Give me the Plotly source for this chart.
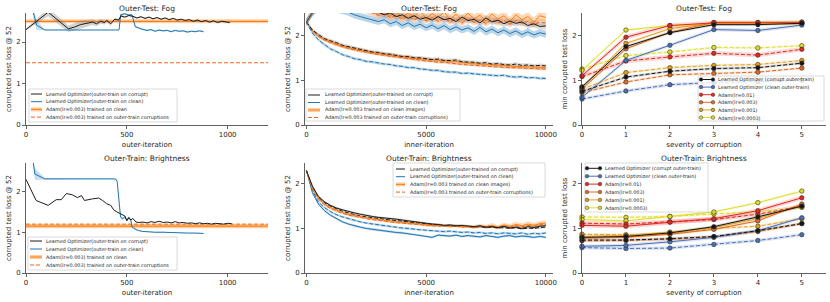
import plotly.graph_objects as go

W, H = 830, 302

# ---------------- DATA ----------------
# Panel 1: Outer-Test: Fog vs outer-iteration
p1_lo_corrupt_x = [0, 110, 210, 240, 270, 300, 330, 350, 370, 390,
                   400, 420, 440, 460, 470, 490, 510, 530, 550, 570,
                   590, 610, 630, 650, 670, 690, 710, 730, 750, 770,
                   790, 810, 830, 850, 870, 890, 910, 930, 950, 970,
                   990, 1010]
p1_lo_corrupt_y = [2.30, 2.72, 2.32, 2.36, 2.42, 2.45, 2.48, 2.44, 2.50, 2.47,
                   2.52, 2.44, 2.55, 2.53, 2.63, 2.60, 2.64, 2.62, 2.58, 2.61,
                   2.57, 2.60, 2.56, 2.59, 2.55, 2.58, 2.54, 2.57, 2.53, 2.55,
                   2.52, 2.54, 2.50, 2.53, 2.49, 2.52, 2.48, 2.51, 2.47, 2.50,
                   2.48, 2.47]
p1_lo_corrupt_err = [0.02, 0.10, 0.08, 0.09, 0.10, 0.08, 0.07, 0.06, 0.06, 0.05,
                     0.04, 0.04, 0.03, 0.03, 0.03, 0.02, 0.02, 0.02, 0.02, 0.02,
                     0.02, 0.02, 0.02, 0.02, 0.02, 0.02, 0.02, 0.02, 0.02, 0.02,
                     0.02, 0.02, 0.02, 0.02, 0.02, 0.02, 0.02, 0.02, 0.02, 0.02,
                     0.02, 0.02]
p1_lo_clean_x = [36, 52, 93, 200, 300, 461, 470, 490, 510, 525,
                 542, 560, 575, 600, 620, 640, 660, 680, 700, 720,
                 740, 760, 780, 800, 820, 840, 860, 880]
p1_lo_clean_y = [2.72, 2.41, 2.29, 2.29, 2.29, 2.29, 2.66, 2.68, 2.65, 2.66,
                 2.37, 2.33, 2.31, 2.28, 2.30, 2.26, 2.29, 2.27, 2.28, 2.25,
                 2.28, 2.26, 2.27, 2.24, 2.26, 2.25, 2.27, 2.25]
p1_lo_clean_err = [0.12, 0.12, 0.01, 0.0, 0.0, 0.0, 0.02, 0.02, 0.02, 0.02,
                   0.03, 0.02, 0.02, 0.02, 0.02, 0.02, 0.02, 0.02, 0.02, 0.02,
                   0.02, 0.02, 0.02, 0.02, 0.02, 0.02, 0.02, 0.02]
p1_adam_x = [0, 1200]
p1_adam_clean = 2.50
p1_adam_clean_err = 0.05
p1_adam_corrupt = 1.50

# Panel 4: Outer-Train: Brightness vs outer-iteration
p4_lo_corrupt_x = [0, 50, 110, 150, 175, 200, 230, 255, 275, 290,
                   330, 360, 380, 400, 420, 435, 450, 470, 490, 500,
                   510, 520, 530, 545, 560, 580, 600, 620, 640, 660,
                   680, 700, 720, 740, 760, 780, 800, 820, 840, 860,
                   880, 900, 920, 940, 960, 980, 1000, 1020]
p4_lo_corrupt_y = [2.30, 1.78, 1.66, 1.80, 1.80, 1.95, 1.92, 1.85, 1.90, 1.78,
                   1.82, 1.84, 1.78, 1.70, 1.66, 1.55, 1.50, 1.45, 1.40, 1.28,
                   1.36, 1.30, 1.34, 1.25, 1.24, 1.25, 1.23, 1.26, 1.24, 1.27,
                   1.24, 1.25, 1.23, 1.26, 1.23, 1.24, 1.22, 1.23, 1.21, 1.23,
                   1.21, 1.22, 1.20, 1.22, 1.21, 1.20, 1.22, 1.21]
p4_lo_clean_x = [36, 44, 93, 200, 300, 444, 452, 461, 469, 480,
                 490, 500, 510, 520, 526, 540, 559, 580, 600, 640,
                 680, 720, 760, 800, 840, 880]
p4_lo_clean_y = [2.72, 2.43, 2.31, 2.31, 2.31, 2.31, 2.25, 1.66, 1.37, 1.33,
                 1.38, 1.30, 1.36, 1.29, 1.13, 1.08, 1.04, 1.02, 1.01, 1.00,
                 1.00, 0.99, 0.99, 0.98, 0.98, 0.97]
p4_lo_clean_err = [0.05, 0.14, 0.02, 0.01, 0.01, 0.01, 0.02, 0.03, 0.03, 0.03,
                   0.03, 0.03, 0.03, 0.03, 0.02, 0.02, 0.01, 0.01, 0.01, 0.01,
                   0.01, 0.01, 0.01, 0.01, 0.01, 0.01]
p4_adam_x = [0, 1200]
p4_adam_clean = 1.15
p4_adam_clean_err = 0.05
p4_adam_corrupt = 1.20

# Panels 2 & 5: inner-iteration curves
inner_x = [0, 250, 500, 750, 1000, 1250, 1500, 1750, 2000, 2250,
           2500, 2750, 3000, 3250, 3500, 3750, 4000, 4250, 4500, 4750,
           5000, 5250, 5500, 5750, 6000, 6250, 6500, 6750, 7000, 7250,
           7500, 7750, 8000, 8250, 8500, 8750, 9000, 9250, 9500, 9750,
           10000]
p2_lo_corrupt_solid = [2.30, 2.52, 2.70, 2.85, 2.90, 2.90, 2.85, 2.80, 2.75, 2.70,
                       2.65, 2.60, 2.52, 2.46, 2.50, 2.42, 2.46, 2.38, 2.44, 2.36,
                       2.40, 2.34, 2.42, 2.35, 2.38, 2.31, 2.41, 2.33, 2.36, 2.28,
                       2.39, 2.30, 2.34, 2.26, 2.32, 2.27, 2.30, 2.22, 2.26, 2.20,
                       2.21]
p2_lo_clean_solid = [2.30, 2.50, 2.62, 2.66, 2.62, 2.60, 2.56, 2.52, 2.46, 2.42,
                     2.38, 2.35, 2.31, 2.35, 2.26, 2.31, 2.22, 2.28, 2.20, 2.25,
                     2.17, 2.23, 2.15, 2.22, 2.13, 2.19, 2.12, 2.17, 2.09, 2.18,
                     2.08, 2.14, 2.06, 2.12, 2.04, 2.10, 2.02, 2.08, 2.01, 2.06,
                     2.03]
p2_adam_clean_solid_hi = [2.30, 2.55, 2.75, 2.90, 3.00, 3.00, 2.95, 2.90, 2.85, 2.80,
                          2.75, 2.62, 2.50, 2.55, 2.44, 2.53, 2.41, 2.50, 2.42, 2.55,
                          2.38, 2.49, 2.40, 2.52, 2.36, 2.47, 2.34, 2.50, 2.37, 2.45,
                          2.32, 2.48, 2.36, 2.44, 2.31, 2.46, 2.35, 2.42, 2.30, 2.44,
                          2.40]
p2_adam_corrupt_dash_hi = [2.30, 2.50, 2.68, 2.80, 2.85, 2.82, 2.78, 2.72, 2.66, 2.60,
                           2.55, 2.50, 2.45, 2.48, 2.40, 2.44, 2.37, 2.42, 2.35, 2.41,
                           2.33, 2.40, 2.31, 2.38, 2.30, 2.36, 2.28, 2.37, 2.29, 2.34,
                           2.27, 2.35, 2.28, 2.33, 2.25, 2.34, 2.27, 2.31, 2.24, 2.30,
                           2.28]
p2_lo_corrupt_dash = [2.30, 2.12, 2.02, 1.93, 1.88, 1.84, 1.78, 1.75, 1.71, 1.69,
                      1.66, 1.63, 1.62, 1.59, 1.58, 1.55, 1.53, 1.53, 1.50, 1.50,
                      1.48, 1.46, 1.47, 1.44, 1.44, 1.45, 1.41, 1.41, 1.40, 1.38,
                      1.39, 1.36, 1.37, 1.35, 1.34, 1.36, 1.33, 1.34, 1.32, 1.33,
                      1.32]
p2_adam_clean_solid_lo = [2.30, 2.10, 1.99, 1.91, 1.86, 1.81, 1.76, 1.73, 1.70, 1.67,
                          1.64, 1.62, 1.60, 1.58, 1.56, 1.54, 1.53, 1.51, 1.49, 1.48,
                          1.47, 1.45, 1.44, 1.43, 1.42, 1.41, 1.40, 1.38, 1.37, 1.36,
                          1.35, 1.35, 1.33, 1.33, 1.32, 1.31, 1.30, 1.30, 1.29, 1.29,
                          1.28]
p2_adam_corrupt_dash_lo = [2.30, 2.10, 1.98, 1.90, 1.84, 1.79, 1.75, 1.71, 1.68, 1.65,
                           1.62, 1.60, 1.57, 1.56, 1.53, 1.52, 1.50, 1.48, 1.46, 1.45,
                           1.43, 1.42, 1.40, 1.40, 1.38, 1.37, 1.35, 1.34, 1.33, 1.33,
                           1.31, 1.30, 1.30, 1.29, 1.28, 1.28, 1.27, 1.26, 1.26, 1.25,
                           1.25]
p2_lo_clean_dash = [2.30, 2.05, 1.90, 1.79, 1.70, 1.64, 1.57, 1.53, 1.48, 1.46,
                    1.42, 1.41, 1.38, 1.36, 1.35, 1.32, 1.31, 1.28, 1.28, 1.25,
                    1.24, 1.22, 1.22, 1.19, 1.18, 1.18, 1.15, 1.16, 1.14, 1.13,
                    1.12, 1.11, 1.10, 1.11, 1.08, 1.07, 1.08, 1.05, 1.06, 1.04,
                    1.04]

p5_lo_corrupt_solid = [2.30, 1.95, 1.72, 1.60, 1.52, 1.46, 1.42, 1.38, 1.35, 1.32,
                       1.29, 1.27, 1.25, 1.24, 1.22, 1.21, 1.19, 1.17, 1.15, 1.14,
                       1.12, 1.10, 1.09, 1.07, 1.08, 1.06, 1.07, 1.05, 1.04, 1.06,
                       1.03, 1.04, 1.02, 1.05, 1.01, 1.03, 1.00, 1.04, 1.02, 1.05,
                       1.06]
p5_lo_corrupt_dash = [2.30, 1.92, 1.70, 1.58, 1.50, 1.44, 1.39, 1.35, 1.31, 1.28,
                      1.26, 1.24, 1.22, 1.21, 1.19, 1.18, 1.16, 1.15, 1.13, 1.12,
                      1.10, 1.09, 1.08, 1.06, 1.07, 1.05, 1.05, 1.04, 1.03, 1.04,
                      1.02, 1.03, 1.01, 1.02, 1.00, 1.02, 0.99, 1.01, 1.00, 1.02,
                      1.03]
p5_adam_clean_solid = [2.30, 1.90, 1.68, 1.55, 1.47, 1.41, 1.36, 1.32, 1.29, 1.27,
                       1.24, 1.22, 1.20, 1.19, 1.17, 1.15, 1.14, 1.12, 1.11, 1.10,
                       1.08, 1.07, 1.08, 1.06, 1.05, 1.07, 1.04, 1.05, 1.03, 1.06,
                       1.04, 1.07, 1.03, 1.08, 1.05, 1.09, 1.06, 1.10, 1.07, 1.11,
                       1.12]
p5_adam_clean_err = [0.0, 0.02, 0.02, 0.02, 0.02, 0.02, 0.02, 0.02, 0.02, 0.02,
                     0.02, 0.02, 0.02, 0.02, 0.02, 0.02, 0.02, 0.02, 0.02, 0.02,
                     0.03, 0.03, 0.03, 0.03, 0.03, 0.03, 0.03, 0.03, 0.04, 0.04,
                     0.04, 0.05, 0.04, 0.05, 0.05, 0.06, 0.05, 0.06, 0.05, 0.06,
                     0.06]
p5_adam_corrupt_dash = [2.30, 1.88, 1.66, 1.53, 1.45, 1.39, 1.34, 1.30, 1.27, 1.24,
                        1.22, 1.20, 1.18, 1.16, 1.15, 1.13, 1.12, 1.11, 1.09, 1.08,
                        1.07, 1.06, 1.05, 1.06, 1.04, 1.05, 1.03, 1.04, 1.02, 1.04,
                        1.03, 1.05, 1.02, 1.04, 1.03, 1.06, 1.04, 1.07, 1.05, 1.08,
                        1.09]
p5_lo_clean_dash = [2.30, 1.85, 1.60, 1.47, 1.38, 1.31, 1.26, 1.22, 1.18, 1.15,
                    1.12, 1.10, 1.08, 1.06, 1.04, 1.03, 1.01, 1.00, 0.98, 0.97,
                    0.96, 0.95, 0.94, 0.93, 0.94, 0.92, 0.91, 0.92, 0.90, 0.91,
                    0.89, 0.90, 0.88, 0.90, 0.89, 0.88, 0.90, 0.87, 0.89, 0.88,
                    0.90]
p5_lo_clean_solid = [2.30, 1.80, 1.55, 1.40, 1.30, 1.22, 1.15, 1.10, 1.06, 1.03,
                     1.00, 0.98, 0.96, 0.94, 0.93, 0.91, 0.90, 0.88, 0.87, 0.85,
                     0.83, 0.80, 0.85, 0.84, 0.83, 0.85, 0.82, 0.84, 0.83, 0.81,
                     0.84, 0.82, 0.80, 0.83, 0.84, 0.81, 0.83, 0.82, 0.80, 0.82,
                     0.80]

# Panels 3 & 6: severity of corruption
severity = [0, 1, 2, 3, 4, 5]
p3_solid = {
    "lo_corrupt": [0.85, 1.75, 2.06, 2.24, 2.24, 2.27],
    "lo_clean":   [0.62, 1.44, 1.78, 2.13, 2.11, 2.23],
    "lr0.01":     [1.10, 1.96, 2.22, 2.28, 2.28, 2.28],
    "lr0.003":    [0.80, 1.70, 2.07, 2.29, 2.29, 2.29],
    "lr0.001":    [0.85, 1.82, 2.15, 2.28, 2.28, 2.30],
    "lr0.0003":   [1.22, 2.12, 2.22, 2.26, 2.26, 2.26],
}
p3_dash = {
    "lo_corrupt": [0.75, 1.07, 1.20, 1.26, 1.28, 1.38],
    "lo_clean":   [0.58, 0.76, 0.90, 0.95, 0.97, 1.00],
    "lr0.01":     [1.08, 1.43, 1.52, 1.60, 1.56, 1.69],
    "lr0.003":    [0.72, 0.96, 1.12, 1.15, 1.18, 1.27],
    "lr0.001":    [0.80, 1.17, 1.28, 1.33, 1.35, 1.44],
    "lr0.0003":   [1.25, 1.55, 1.63, 1.73, 1.72, 1.77],
}
p6_solid = {
    "lo_corrupt": [0.80, 0.82, 0.90, 1.04, 1.26, 1.50],
    "lo_clean":   [0.60, 0.62, 0.70, 0.80, 0.95, 1.24],
    "lr0.01":     [1.07, 1.05, 1.14, 1.22, 1.40, 1.69],
    "lr0.003":    [0.78, 0.80, 0.87, 0.98, 1.17, 1.55],
    "lr0.001":    [0.82, 0.84, 0.92, 1.02, 1.22, 1.52],
    "lr0.0003":   [1.20, 1.17, 1.27, 1.37, 1.58, 1.84],
}
p6_dash = {
    "lo_corrupt": [0.74, 0.74, 0.77, 0.82, 0.95, 1.11],
    "lo_clean":   [0.57, 0.55, 0.56, 0.64, 0.73, 0.86],
    "lr0.01":     [1.12, 1.10, 1.15, 1.20, 1.32, 1.50],
    "lr0.003":    [0.72, 0.73, 0.76, 0.81, 0.93, 1.11],
    "lr0.001":    [0.87, 0.86, 0.88, 1.00, 1.05, 1.22],
    "lr0.0003":   [1.26, 1.25, 1.27, 1.33, 1.38, 1.47],
}
sev_err = {"lo_corrupt": 0.03, "lo_clean": 0.04, "lr0.01": 0.05,
           "lr0.003": 0.03, "lr0.001": 0.03, "lr0.0003": 0.03}

titles = ["Outer-Test: Fog", "Outer-Test: Fog", "Outer-Test: Fog",
          "Outer-Train: Brightness", "Outer-Train: Brightness", "Outer-Train: Brightness"]
xtitles = ["outer-iteration", "inner-iteration", "severity of corruption"] * 2
ytitles = ["corrupted test loss @ 52", "corrupted test loss @ 52", "min corrupted test loss"] * 2

leg_outer = ["Learned Optimizer(outer-train on corrupt)", "Learned Optimizer(outer-train on clean)",
             "Adam(lr=0.003) trained on clean", "Adam(lr=0.003) trained on outer-train corruptions"]
leg_inner = ["Learned Optimizer(outer-trained on corrupt)", "Learned Optimizer(outer-trained on clean)",
             "Adam(lr=0.003 trained on clean images)", "Adam(lr=0.003 trained on outer-train corruptions)"]
leg_sev = ["Learned Optimizer (corrupt outer-train)", "Learned Optimizer (clean outer-train)",
           "Adam(lr=0.01)", "Adam(lr=0.003)", "Adam(lr=0.001)", "Adam(lr=0.0003)"]

# ---------------- STYLE ----------------
BLACK = "#1c1c1c"
BLUE = "#1f77b4"
ORANGE = "#ff7f0e"
SEV_COL = {"lo_corrupt": "#151515", "lo_clean": "#4a6fb5", "lr0.01": "#e3261e",
           "lr0.003": "#e2691d", "lr0.001": "#e3a01a", "lr0.0003": "#dede26"}
SEV_KEYS = ["lo_corrupt", "lo_clean", "lr0.01", "lr0.003", "lr0.001", "lr0.0003"]
DASH = "4px,2px"
FONT = "DejaVu Sans"
TXT = "#262626"

X_DOM = [(26, 268), (305, 553), (582, 826)]
Y_DOM = [(13, 125), (163, 273)]
X_RANGE = [[0, 1200], [-60, 10300], [0, 5.55]]
Y_RANGE = [[0, 2.7], [0, 2.5], [0, 2.5], [0, 2.7], [0, 2.47], [0, 2.47]]
X_DTICK = [500, 5000, 1]

fig = go.Figure()


def axn(i):
    return ("x" if i == 1 else f"x{i}"), ("y" if i == 1 else f"y{i}")


def rgba(h, a):
    h = h.lstrip("#")
    return f"rgba({int(h[0:2],16)},{int(h[2:4],16)},{int(h[4:6],16)},{a})"


def band(i, x, y, err, color, alpha=0.3):
    if isinstance(err, (int, float)):
        err = [err] * len(y)
    up = [a + e for a, e in zip(y, err)]
    lo = [a - e for a, e in zip(y, err)]
    xa, ya = axn(i)
    fig.add_trace(go.Scatter(x=list(x) + list(x)[::-1], y=up + lo[::-1], fill="toself",
                             fillcolor=rgba(color, alpha), line=dict(width=0), mode="lines",
                             hoverinfo="skip", showlegend=False, xaxis=xa, yaxis=ya))


def line(i, x, y, color, dash="solid", width=1.0, markers=False):
    xa, ya = axn(i)
    if markers:
        kw = dict(mode="lines+markers",
                  marker=dict(size=4.5, color=color, line=dict(color="#333333", width=0.6)),
                  cliponaxis=False)
    else:
        kw = dict(mode="lines")
    fig.add_trace(go.Scatter(x=x, y=y, line=dict(color=color, width=width, dash=dash),
                             showlegend=False, xaxis=xa, yaxis=ya, **kw))


# ----- Panel 1 -----
band(1, p1_adam_x, [p1_adam_clean] * 2, p1_adam_clean_err, ORANGE, 0.35)
line(1, p1_adam_x, [p1_adam_clean] * 2, ORANGE, width=1.2)
line(1, p1_adam_x, [p1_adam_corrupt] * 2, "#f0651a", dash=DASH, width=1.0)
band(1, p1_lo_corrupt_x, p1_lo_corrupt_y, p1_lo_corrupt_err, "#808080", 0.35)
band(1, p1_lo_clean_x, p1_lo_clean_y, p1_lo_clean_err, BLUE, 0.25)
line(1, p1_lo_clean_x, p1_lo_clean_y, BLUE)
line(1, p1_lo_corrupt_x, p1_lo_corrupt_y, BLACK)

# ----- Panel 4 -----
band(4, p4_adam_x, [p4_adam_clean] * 2, p4_adam_clean_err, ORANGE, 0.4)
line(4, p4_adam_x, [p4_adam_clean] * 2, ORANGE, width=1.2)
line(4, p4_adam_x, [p4_adam_corrupt] * 2, "#f0651a", dash=DASH, width=1.0)
band(4, p4_lo_clean_x, p4_lo_clean_y, p4_lo_clean_err, BLUE, 0.25)
line(4, p4_lo_clean_x, p4_lo_clean_y, BLUE)
line(4, p4_lo_corrupt_x, p4_lo_corrupt_y, BLACK)

# ----- Panel 2 -----
p2_series = [
    (p2_adam_clean_solid_hi, ORANGE, "solid", 0.10, 0.3),
    (p2_adam_corrupt_dash_hi, "#e8661a", DASH, 0.07, 0.25),
    (p2_lo_corrupt_solid, BLACK, "solid", 0.07, 0.3),
    (p2_lo_clean_solid, BLUE, "solid", 0.08, 0.3),
    (p2_adam_clean_solid_lo, ORANGE, "solid", 0.04, 0.3),
    (p2_adam_corrupt_dash_lo, "#e8661a", DASH, 0.03, 0.3),
    (p2_lo_corrupt_dash, BLACK, DASH, 0.04, 0.3),
    (p2_lo_clean_dash, BLUE, DASH, 0.03, 0.3),
]
for y, c, d, e, a in p2_series:
    band(2, inner_x, y, e, "#808080" if c == BLACK else c, a)
for y, c, d, e, a in p2_series:
    line(2, inner_x, y, c, dash=d)

# ----- Panel 5 -----
for y, c, e in [
    (p5_adam_clean_solid, ORANGE, p5_adam_clean_err),
    (p5_adam_corrupt_dash, "#e8661a", 0.02),
    (p5_lo_corrupt_solid, "#808080", 0.025),
    (p5_lo_corrupt_dash, "#808080", 0.02),
    (p5_lo_clean_dash, BLUE, 0.025),
    (p5_lo_clean_solid, BLUE, 0.025),
]:
    band(5, inner_x, y, e, c, 0.3)
for y, c, d in [
    (p5_lo_clean_solid, BLUE, "solid"),
    (p5_lo_clean_dash, BLUE, DASH),
    (p5_lo_corrupt_dash, BLACK, DASH),
    (p5_adam_corrupt_dash, "#e8661a", DASH),
    (p5_adam_clean_solid, ORANGE, "solid"),
    (p5_lo_corrupt_solid, BLACK, "solid"),
]:
    line(5, inner_x, y, c, dash=d)

# ----- Panels 3 & 6 -----
for i, sol, das in [(3, p3_solid, p3_dash), (6, p6_solid, p6_dash)]:
    for k in SEV_KEYS:
        band(i, severity, sol[k], sev_err[k], SEV_COL[k], 0.18)
        band(i, severity, das[k], sev_err[k], SEV_COL[k], 0.18)
    for k in SEV_KEYS[::-1]:
        line(i, severity, das[k], SEV_COL[k], dash=DASH, markers=True)
        line(i, severity, sol[k], SEV_COL[k], markers=True)

# ----- Axes -----
layout = {}
for i in range(1, 7):
    col = (i - 1) % 3
    row = (i - 1) // 3
    x0, x1 = X_DOM[col]
    yt, yb = Y_DOM[row]
    xn = "xaxis" if i == 1 else f"xaxis{i}"
    yn = "yaxis" if i == 1 else f"yaxis{i}"
    common = dict(showline=True, linecolor="#3a3a3a", linewidth=0.8, ticks="outside",
                  ticklen=3, tickwidth=0.8, tickcolor="#3a3a3a", showgrid=False,
                  zeroline=False, automargin=False,
                  tickfont=dict(size=7, color=TXT, family=FONT))
    layout[xn] = dict(domain=[x0 / W, x1 / W], anchor=axn(i)[1], range=X_RANGE[col],
                      tick0=0, dtick=X_DTICK[col], tickformat="d",
                      title=dict(text=xtitles[i - 1], standoff=3,
                                 font=dict(size=7, color=TXT, family=FONT)), **common)
    layout[yn] = dict(domain=[1 - yb / H, 1 - yt / H], anchor=axn(i)[0], range=Y_RANGE[i - 1],
                      tick0=0, dtick=1,
                      title=dict(text=ytitles[i - 1], standoff=3,
                                 font=dict(size=7, color=TXT, family=FONT)), **common)
    fig.add_annotation(xref="paper", yref="paper", x=(x0 + x1) / 2 / W,
                       y=1 - (yt - 5) / H, text=titles[i - 1], showarrow=False,
                       xanchor="center", yanchor="middle",
                       font=dict(size=7.5, color=TXT, family=FONT))

fig.update_layout(template="none", width=W, height=H, margin=dict(l=0, r=0, t=0, b=0),
                  paper_bgcolor="white", plot_bgcolor="white",
                  font=dict(family=FONT, color=TXT), showlegend=False, **layout)


# ----- Legends (drawn as boxes + samples + text) -----
def draw_legend(box, row0, pitch, sx, tx, labels, styles, fsize=4.9):
    bx0, by0, bx1, by1 = box
    fig.add_shape(type="rect", xref="paper", yref="paper", x0=bx0 / W, x1=bx1 / W,
                  y0=1 - by1 / H, y1=1 - by0 / H, fillcolor="rgba(255,255,255,0.8)",
                  line=dict(color="#cccccc", width=0.7), layer="above")
    for k, (lab, st) in enumerate(zip(labels, styles)):
        yc = row0 + k * pitch
        yp = 1 - yc / H
        if st.get("band"):
            fig.add_shape(type="line", xref="paper", yref="paper", x0=sx[0] / W, x1=sx[1] / W,
                          y0=yp, y1=yp, line=dict(color=rgba(st["color"], 0.4), width=4))
        fig.add_shape(type="line", xref="paper", yref="paper", x0=sx[0] / W, x1=sx[1] / W,
                      y0=yp, y1=yp, line=dict(color=st["color"], width=1, dash=st.get("dash", "solid")))
        if st.get("marker"):
            r = 1.8
            for xm in sx:
                fig.add_shape(type="circle", xref="paper", yref="paper",
                              x0=(xm - r) / W, x1=(xm + r) / W, y0=1 - (yc + r) / H, y1=1 - (yc - r) / H,
                              fillcolor=st["color"], line=dict(color="#333333", width=0.5))
        fig.add_annotation(xref="paper", yref="paper", x=tx / W, y=yp, text=lab, showarrow=False,
                           xanchor="left", yanchor="middle",
                           font=dict(size=fsize, color=TXT, family=FONT))


st4 = [dict(color=BLACK), dict(color=BLUE), dict(color=ORANGE, band=True),
       dict(color="#e8661a", dash=DASH)]
st6 = [dict(color=SEV_COL[k], marker=True) for k in SEV_KEYS]

draw_legend((29, 89, 177, 122), 94, 7.7, (31, 42), 44, leg_outer, st4)
draw_legend((306, 89, 460, 121), 95, 7.5, (308, 320), 323, leg_inner, st4)
draw_legend((698, 76, 824, 121), 79.5, 7.6, (701, 713), 716, leg_sev, st6)
draw_legend((28, 237, 177, 270), 241, 8.0, (30, 42), 44, leg_outer, st4)
draw_legend((393, 163, 545, 197), 169, 7.7, (396, 405), 408, leg_inner, st4)
draw_legend((585, 163, 708, 212), 168.3, 7.9, (587, 600), 603, leg_sev, st6)

fig.write_html("out.html", config={"displayModeBar": False, "staticPlot": True},
               post_script="document.body.style.margin='0px';document.body.style.overflow='hidden';")
